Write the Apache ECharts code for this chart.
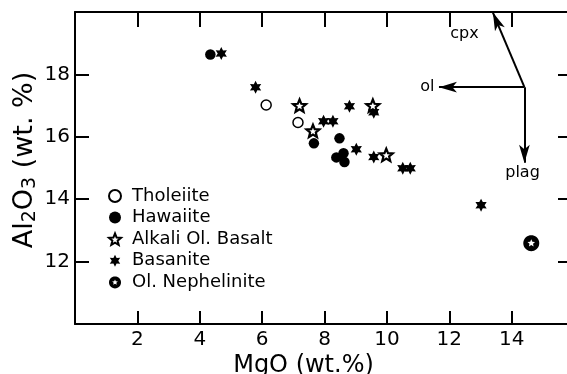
<!DOCTYPE html>
<html>
<head>
<meta charset="utf-8">
<script src="https://cdn.jsdelivr.net/npm/echarts@6/dist/echarts.min.js"></script>
<style>
  html, body { margin: 0; padding: 0; background: #fff; }
  #chart { width: 567px; height: 374px; }
</style>
</head>
<body>
<div id="chart"></div>
<script>
// MgO (x) vs Al2O3 (y)
var tholeiite = [[6.13, 17.02], [7.15, 16.46]];
var hawaiite = [[4.34, 18.64], [7.66, 15.79], [8.48, 15.95], [8.38, 15.34], [8.61, 15.47], [8.64, 15.19]];
var alkaliOlBasalt = [[7.2, 17.0], [7.63, 16.19], [9.55, 17.0], [9.98, 15.42]];
var basanite = [[4.69, 18.67], [5.79, 17.59], [7.97, 16.5], [8.27, 16.5], [8.8, 16.98], [9.58, 16.79],
  [9.02, 15.6], [9.58, 15.35], [10.51, 14.99], [10.75, 14.99], [13.02, 13.81]];
var olNephelinite = [[14.63, 12.59]];

var xTicks = [2, 4, 6, 8, 10, 12, 14];
var yTicks = [12, 14, 16, 18];

// fractionation vectors: common origin, end points and labels
var vectorOrigin = [14.41, 17.59];
var vectorEnds = [[13.4, 19.98], [11.67, 17.59], [14.41, 15.17]];
var vectorNames = ['cpx', 'ol', 'plag'];
var vectorLabelAt = [[12.49, 19.31], [11.3, 17.6], [14.35, 14.84]];

var FONT = 'DejaVu Sans';

// star path, points go round in the given direction
function starPts(n, ro, ri, dir) {
  var pts = [];
  for (var i = 0; i < n * 2; i++) {
    var a = -Math.PI / 2 + dir * i * Math.PI / n;
    var r = i % 2 === 0 ? ro : ri;
    pts.push((r * Math.cos(a)).toFixed(2) + ' ' + (r * Math.sin(a)).toFixed(2));
  }
  return 'M' + pts.join(' L') + ' Z';
}
function circlePts(r, dir) {
  var pts = [];
  for (var i = 0; i < 36; i++) {
    var a = dir * i * Math.PI / 18;
    pts.push((r * Math.cos(a)).toFixed(2) + ' ' + (r * Math.sin(a)).toFixed(2));
  }
  return 'M' + pts.join(' L') + ' Z';
}
var star5 = 'path://' + starPts(5, 10, 4.4, 1);
var star6 = 'path://' + starPts(6, 10, 5.4, 1);
var nephSym = 'path://' + circlePts(10, 1) + ' ' + starPts(5, 5, 2.3, -1);

function tickFmt(list) {
  return function (v) { return list.indexOf(v) >= 0 ? String(v) : ''; };
}

var axisLine = { show: true, onZero: false, lineStyle: { color: '#000', width: 2 } };
var tickIn = function (len) { return { show: true, inside: true, length: len, lineStyle: { color: '#000', width: 2 } }; };

var chart = echarts.init(document.getElementById('chart'));

var arrowLines = vectorEnds.map(function (e) {
  return [{ coord: vectorOrigin }, { coord: e }];
});
var labelPts = vectorLabelAt.map(function (p, i) {
  return { value: p, name: vectorNames[i] };
});

var option = {
  animation: false,
  backgroundColor: '#fff',
  textStyle: { fontFamily: FONT },
  grid: { left: 75, top: 12, width: 499, height: 312, containLabel: false, outerBoundsMode: 'none' },
  legend: {
    orient: 'vertical',
    left: 103,
    top: 182,
    itemWidth: 12,
    itemHeight: 12,
    itemGap: 3.6,
    itemTextGap: 16,
    data: ['Tholeiite', 'Hawaiite', 'Alkali Ol. Basalt', 'Basanite', 'Ol. Nephelinite'],
    textStyle: { fontFamily: FONT, fontSize: 18, color: '#000', lineHeight: 18, padding: [0, 0, 0, 6] }
  },
  xAxis: [{
    type: 'value', min: 0, max: 16, interval: 2, position: 'bottom',
    axisLine: axisLine, axisTick: tickIn(13), splitLine: { show: false },
    axisLabel: { formatter: tickFmt(xTicks), color: '#000', fontSize: 20, fontFamily: FONT, margin: 6 },
    name: 'MgO (wt.%)', nameLocation: 'middle', nameGap: 30, nameMoveOverlap: false,
    nameTextStyle: { fontSize: 24, color: '#000', fontFamily: FONT, padding: [0, 42, 0, 0] }
  }, {
    type: 'value', min: 0, max: 16, interval: 2, position: 'top',
    axisLine: axisLine, axisTick: tickIn(15), axisLabel: { show: false }, splitLine: { show: false }
  }],
  yAxis: [{
    type: 'value', min: 10, max: 20, interval: 2, position: 'left',
    axisLine: axisLine, axisTick: tickIn(14), splitLine: { show: false },
    axisLabel: { formatter: tickFmt(yTicks), color: '#000', fontSize: 20, fontFamily: FONT, margin: 5 },
    name: 'Al{s|2}O{s|3} (wt. %)', nameLocation: 'middle', nameGap: 35, nameMoveOverlap: false,
    nameTextStyle: {
      fontSize: 27, color: '#000', fontFamily: FONT, lineHeight: 30, padding: [0, 0, 0, 16],
      rich: { s: { fontSize: 19, fontFamily: FONT, color: '#000', verticalAlign: 'bottom', lineHeight: 19 } }
    }
  }, {
    type: 'value', min: 10, max: 20, interval: 2, position: 'right',
    axisLine: axisLine, axisTick: tickIn(16), axisLabel: { show: false }, splitLine: { show: false }
  }],
  series: [
    {
      name: 'Tholeiite', type: 'scatter', data: tholeiite,
      symbol: 'circle', symbolSize: 10,
      itemStyle: { color: '#fff', borderColor: '#000', borderWidth: 1.5, opacity: 1 }
    },
    {
      name: 'Hawaiite', type: 'scatter', data: hawaiite,
      symbol: 'circle', symbolSize: 10.5,
      itemStyle: { color: '#000', opacity: 1 }
    },
    {
      name: 'Basanite', type: 'scatter', data: basanite,
      symbol: star6, symbolSize: 13, symbolKeepAspect: true,
      itemStyle: { color: '#000', opacity: 1 }
    },
    {
      name: 'Alkali Ol. Basalt', type: 'scatter', data: alkaliOlBasalt,
      symbol: star5, symbolSize: 13, symbolKeepAspect: true,
      itemStyle: { color: '#fff', borderColor: '#000', borderWidth: 2.2, opacity: 1 }
    },
    {
      name: 'Ol. Nephelinite', type: 'scatter', data: olNephelinite,
      symbol: nephSym, symbolSize: 16,
      itemStyle: { color: '#000', opacity: 1 }
    },
    {
      name: 'vectors', type: 'scatter', data: labelPts,
      symbolSize: 0, silent: true,
      itemStyle: { opacity: 1 },
      label: {
        show: true, position: 'inside', align: 'center', verticalAlign: 'middle', formatter: '{b}',
        color: '#000', fontSize: 16, fontFamily: FONT
      },
      markLine: {
        silent: true, animation: false,
        symbol: ['none', 'arrow'], symbolSize: [8, 18],
        label: { show: false },
        lineStyle: { color: '#000', width: 2, type: 'solid' },
        data: arrowLines
      }
    }
  ]
};

chart.setOption(option);
</script>
</body>
</html>
